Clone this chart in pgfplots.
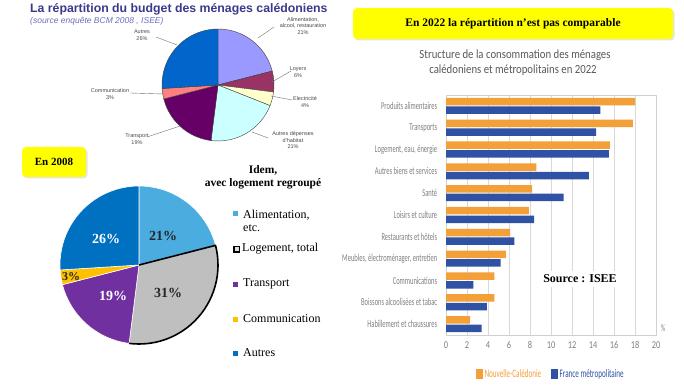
\documentclass[border=0pt]{standalone}
\usepackage{pgfplots}
\pgfplotsset{compat=1.18}
\usepackage{pgfplotstable}
\usepackage{fontspec}
\setmainfont{Liberation Serif}
\newfontfamily\arialf{Liberation Sans}
\newfontfamily\condf[FakeStretch=0.62]{Carlito}
\newfontfamily\condx[FakeStretch=0.8]{Carlito}
\newfontfamily\titlef[FakeStretch=0.86]{Carlito}

\definecolor{tp0}{RGB}{153,153,255}
\definecolor{tp1}{RGB}{153,51,102}
\definecolor{tp2}{RGB}{255,255,204}
\definecolor{tp3}{RGB}{204,255,255}
\definecolor{tp4}{RGB}{102,0,102}
\definecolor{tp5}{RGB}{255,128,128}
\definecolor{tp6}{RGB}{0,102,204}
\definecolor{bp0}{RGB}{75,172,224}
\definecolor{bp1}{RGB}{191,191,191}
\definecolor{bp2}{RGB}{112,48,160}
\definecolor{bp3}{RGB}{255,192,0}
\definecolor{bp4}{RGB}{0,112,192}
\definecolor{ncorange}{RGB}{242,160,55}
\definecolor{fmblue}{RGB}{47,82,165}
\definecolor{tickgray}{RGB}{128,128,128}
\definecolor{titlegray}{RGB}{89,89,89}
\definecolor{hdblue}{RGB}{58,58,140}
\definecolor{subblue}{RGB}{110,110,190}
\definecolor{boxyellow}{RGB}{255,255,0}

\pgfplotstableread{
lab pct
Alim 21
Loyers 6
Elec 4
Habitat 21
Transport 19
Comm 3
Autres 26
}\toppie

\pgfplotstableread{
lab pct
Alim 21
Logement 31
Transport 19
Comm 3
Autres 26
}\botpie

\pgfplotstableread{
y nc fm
10 18.0 14.7
9 17.8 14.3
8 15.6 15.5
7 8.6 13.6
6 8.2 11.2
5 7.9 8.4
4 6.1 6.5
3 5.7 5.2
2 4.6 2.6
1 4.6 3.9
0 2.3 3.4
}\bardata

\newcommand\drawpie[4]{%
 \pgfplotstablegetrowsof{#1}%
 \pgfmathtruncatemacro\pielast{\pgfplotsretval-1}%
 \gdef\piestart{90}%
 \pgfplotsforeachungrouped \i in {0,...,\pielast}{%
   \pgfplotstablegetelem{\i}{pct}\of{#1}%
   \pgfmathsetmacro\pieend{\piestart-3.6*\pgfplotsretval}%
   \expandafter\xdef\csname pieS\i\endcsname{\piestart}%
   \expandafter\xdef\csname pieE\i\endcsname{\pieend}%
   \edef\pietemp{\noexpand\path[fill=#3\i,#4] (axis cs:0,0) -- ([shift={(\piestart:#2)}]axis cs:0,0) arc[start angle=\piestart, end angle=\pieend, radius=#2] -- cycle;}%
   \pietemp
   \xdef\piestart{\pieend}%
 }%
}

\begin{document}
\begin{tikzpicture}
\useasboundingbox (0,0) rectangle (684pt,385pt);
\fill[white] (0,0) rectangle (684pt,385pt);

% top pie (2008, detailed)
\begin{axis}[at={(218pt,300pt)}, anchor=center, x=1pt, y=1pt,
  xmin=-60, xmax=60, ymin=-60, ymax=60, hide axis, clip=false]
\drawpie{\toppie}{56pt}{tp}{draw=black!75, line width=0.4pt}
\end{axis}

% bottom pie (2008, regrouped)
\begin{axis}[at={(139pt,120pt)}, anchor=center, x=1pt, y=1pt,
  xmin=-82, xmax=82, ymin=-82, ymax=82, hide axis, clip=false]
\drawpie{\botpie}{79pt}{bp}{draw=white, line width=0.6pt}
\edef\pietemp{\noexpand\draw[black, line width=1.6pt, line join=round] (axis cs:0,0) -- ([shift={(\csname pieS1\endcsname:79pt)}]axis cs:0,0) arc[start angle=\csname pieS1\endcsname, end angle=\csname pieE1\endcsname, radius=79pt];}\pietemp
\end{axis}

% bar chart 2022
\begin{axis}[at={(446pt,50pt)}, anchor=south west, scale only axis,
  width=210pt, height=240pt,
  xbar, bar width=7.5pt,
  xmin=0, xmax=20, ymin=-0.5, ymax=10.5,
  xtick={0,2,...,20}, ytick={0,...,10},
  yticklabels={Habillement et chaussures, Boissons alcoolisées et tabac, Communications, {Meubles, électroménager, entretien}, Restaurants et hôtels, Loisirs et culture, Santé, Autres biens et services, {Logement, eau, énergie}, Transports, Produits alimentaires},
  xmajorgrids, major grid style={draw=black!15, line width=0.6pt},
  axis line style={draw=black!18},
  tick style={draw=none},
  /pgf/number format/assume math mode=true,
  xticklabel style={font=\condx\fontsize{10.5}{10.5}\selectfont, text=tickgray, yshift=-3pt},
  yticklabel style={font=\condf\fontsize{10.5}{10.5}\selectfont, text=tickgray, xshift=-1pt},
  legend style={at={(axis description cs:0.5,-0.163)}, anchor=center, draw=none, fill=none,
    font=\condf\fontsize{11.5}{12}\selectfont, /tikz/every even column/.append style={column sep=8pt}},
  legend columns=2,
]
\addplot[forget plot, fill=ncorange, draw=none, bar shift=4.3pt] table[x=nc,y=y]{\bardata};
\addplot[forget plot, fill=fmblue, draw=none, bar shift=-4.3pt] table[x=fm,y=y]{\bardata};
\addlegendimage{legend image code/.code={\fill[ncorange] (0pt,-4.5pt) rectangle (6pt,4.5pt);}}
\addlegendentry{\textcolor{ncorange}{Nouvelle-Calédonie}}
\addlegendimage{legend image code/.code={\fill[fmblue] (0pt,-4.5pt) rectangle (6pt,4.5pt);}}
\addlegendentry{\textcolor{fmblue}{France métropolitaine}}
\end{axis}

\begin{scope}[x=1pt, y=-1pt, shift={(0pt,385pt)}]
% top-left header
\node[anchor=west, font=\arialf\bfseries\fontsize{12.3}{13}\selectfont, text=hdblue, inner sep=0] at (30,9) {La répartition du budget des ménages calédoniens};
\node[anchor=west, font=\arialf\itshape\fontsize{8.5}{9}\selectfont, text=subblue, inner sep=0] at (30,21.5) {(source enquête BCM 2008 , ISEE)};
% top pie labels
\begin{scope}[every node/.style={font=\arialf\fontsize{5.5}{6.8}\selectfont, text=black!70, align=center, inner sep=0}]
\node at (303,26) {Alimentation,\\alcool, restauration\\21\%};
\node at (298,72) {Loyers\\6\%};
\node at (305,102) {Electricité\\4\%};
\node at (293,140) {Autres dépenses\\d'habitat\\21\%};
\node at (137,139) {Transport\\19\%};
\node at (110,94) {Communication\\3\%};
\node at (142,35) {Autres\\26\%};
\end{scope}
\begin{scope}[draw=black!55, line width=0.4pt]
\draw (258,38) -- (274,27);
\draw (272,82) -- (291,71);
\draw (271,96) -- (292,100);
\draw (252,132) -- (268,138);
\draw (180,126) -- (147,137);
\draw (163,94) -- (130,93);
\draw (177,45) -- (156,37);
\end{scope}

% yellow boxes
\fill[black!10, rounded corners=4pt] (23.5,148.5) rectangle (87.5,178.5);
\fill[boxyellow, rounded corners=4pt] (22,147) rectangle (86,177);
\node[font=\bfseries\fontsize{11}{12}\selectfont] at (54,162) {En 2008};
\fill[black!10, rounded corners=4pt] (354.5,9.5) rectangle (674.5,40.5);
\fill[boxyellow, rounded corners=4pt] (353,8) rectangle (673,39);
\node[font=\bfseries\fontsize{11.5}{12}\selectfont] at (513,24) {En 2022 la répartition n’est pas comparable};

% bottom pie title and legend
\node[font=\bfseries\fontsize{11.5}{13}\selectfont, align=center] at (263,177) {Idem,\\avec logement regroupé};
\begin{scope}[every node/.style={anchor=west, align=left, inner sep=0, font=\fontsize{12}{13}\selectfont}]
\fill[bp0] (233,211) rectangle (238,216);
\node at (243,220.5) {Alimentation,\\etc.};
\draw[black, line width=1.3pt, fill=bp1!50] (234,246.5) rectangle (239.5,252);
\node at (242,249) {Logement, total};
\fill[bp2] (233,282) rectangle (238,287);
\node at (243,284) {Transport};
\fill[bp3] (233,317) rectangle (238,322);
\node at (243,319) {Communication};
\fill[bp4] (233,351) rectangle (238,356);
\node at (243,353) {Autres};
\end{scope}

% bottom pie percentage labels
\begin{scope}[every node/.style={font=\bfseries\fontsize{14}{14}\selectfont, inner sep=0}]
\node[text=black!85] at (163,236) {21\%};
\node[text=black!85] at (168,293) {31\%};
\node[text=white] at (113,296) {19\%};
\node[text=black!85, font=\bfseries\fontsize{12}{12}\selectfont] at (71,277) {3\%};
\node[text=white] at (106,239) {26\%};
\end{scope}

% bar chart title, unit, source
\node[font=\titlef\fontsize{12.5}{13}\selectfont, text=titlegray] at (515,55) {Structure de la consommation des ménages};
\node[font=\titlef\fontsize{12.5}{13}\selectfont, text=titlegray] at (513,70) {calédoniens et métropolitains en 2022};
\node[font=\condf\fontsize{10}{10}\selectfont, text=tickgray] at (663,328) {\%};
\node[font=\bfseries\fontsize{12}{12}\selectfont, fill=white, inner sep=4pt] at (580,279) {Source : ISEE};
\end{scope}
\end{tikzpicture}
\end{document}
